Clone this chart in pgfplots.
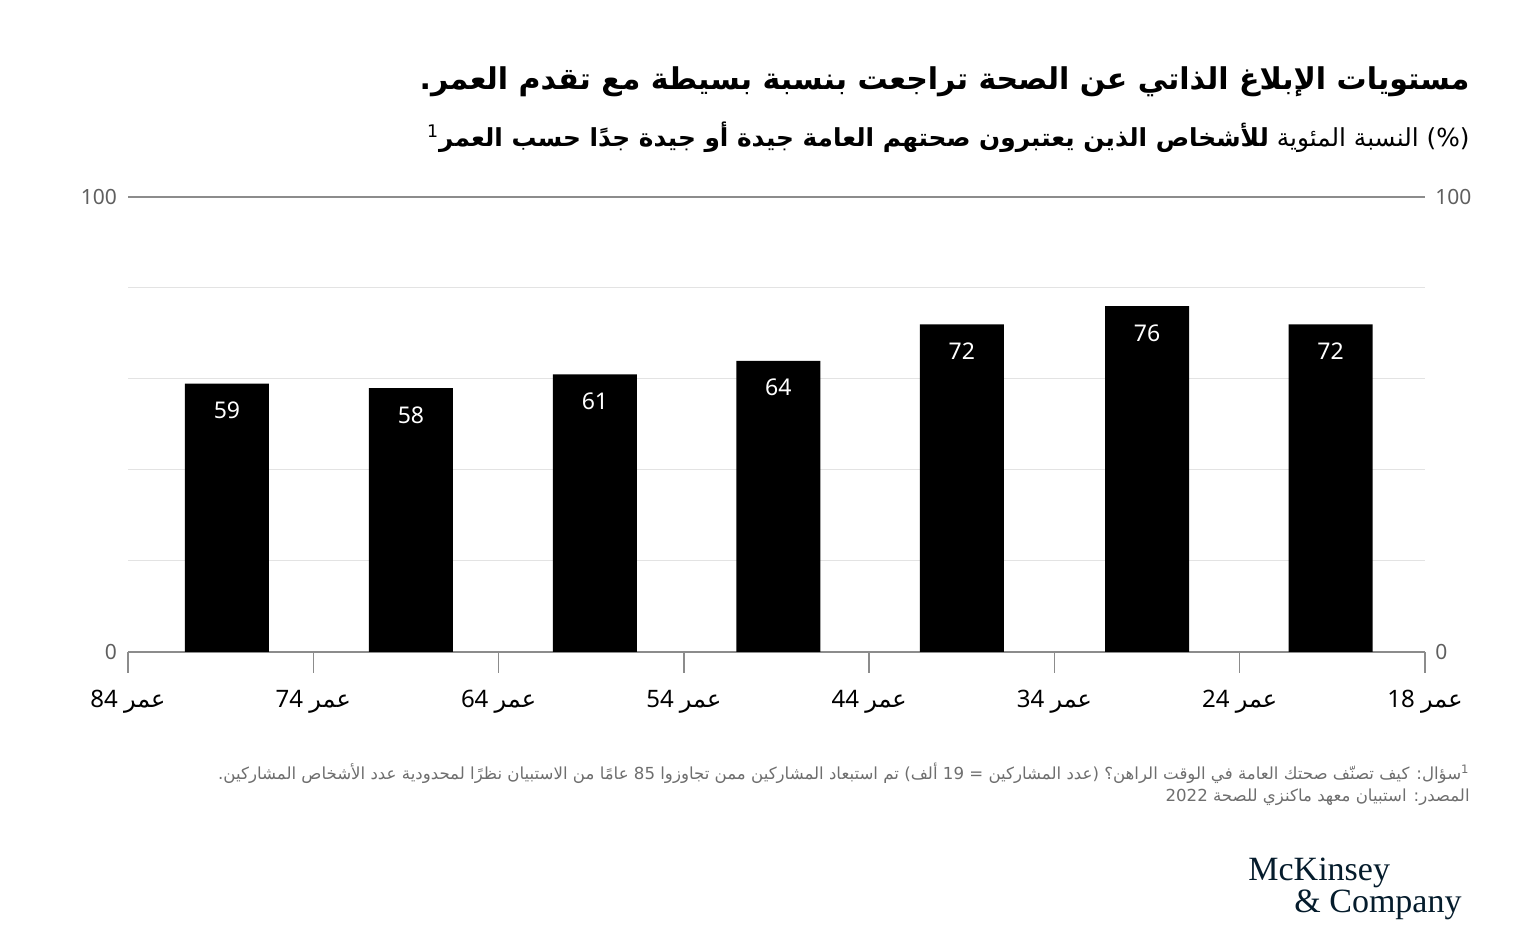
\documentclass[border=0pt]{standalone}
\usepackage{fontspec}
\usepackage{pgfplots}
\pgfplotsset{compat=1.18}
\setmainfont{Noto Sans}
\newfontfamily\arabicfont[Script=Arabic]{DejaVu Sans}
\newfontfamily\logofont{Liberation Serif}
\TeXXeTstate=1
\definecolor{tickgray}{HTML}{8C8C8C}
\definecolor{gridgray}{HTML}{E3E3E3}
\definecolor{labelgray}{HTML}{5F5F5F}
\definecolor{footgray}{HTML}{6E6E6E}
\definecolor{navy}{HTML}{051C2C}
\newcommand{\agelabel}[1]{#1~{\arabicfont عمر}}
\begin{document}
\begin{tikzpicture}[x=1pt,y=1pt]
\path[use as bounding box] (0,0) rectangle (768,473);
\begin{axis}[
  at={(64pt,147pt)}, anchor=south west,
  scale only axis, width=648.5pt, height=227.5pt,
  xmin=0, xmax=7, ymin=0, ymax=100,
  /pgf/number format/assume math mode=true,
  axis x line*=bottom, axis y line*=left,
  x axis line style={draw=tickgray, line width=0.7pt, -},
  y axis line style={draw=none},
  xtick={0,1,2,3,4,5,6,7},
  xticklabels={\agelabel{84},\agelabel{74},\agelabel{64},\agelabel{54},\agelabel{44},\agelabel{34},\agelabel{24},\agelabel{18}},
  tick align=outside,
  major tick length=10.5pt,
  xtick style={draw=tickgray, line width=0.7pt},
  xticklabel style={font=\fontsize{12}{14}\selectfont, text=black, yshift=-5pt},
  ytick={20,40,60,80},
  yticklabels={},
  ytick style={draw=none},
  ymajorgrids=true,
  major grid style={draw=gridgray, line width=0.5pt},
  extra y ticks={0,100},
  extra y tick labels={0,100},
  extra y tick style={ymajorgrids=true, major grid style={draw=tickgray, line width=0.6pt}, ytick style={draw=none}},
  yticklabel style={text=labelgray, font=\fontsize{10.5}{12}\selectfont, xshift=8.5pt},
  clip=false,
]
\addplot[ybar, bar width=42pt, fill=black, draw=none,
  nodes near coords,
  every node near coord/.append style={text=white, anchor=center, yshift=-13.5pt, font=\fontsize{11.5}{13}\selectfont}]
  coordinates {(0.534,59) (1.527,58) (2.52,61) (3.51,64) (4.50,72) (5.50,76) (6.49,72)};
\node[anchor=west, inner sep=0pt, text=labelgray, font=\fontsize{10.5}{12}\selectfont] at ([xshift=5pt]axis cs:7,100) {100};
\node[anchor=west, inner sep=0pt, text=labelgray, font=\fontsize{10.5}{12}\selectfont] at ([xshift=5pt]axis cs:7,0) {0};
\end{axis}
\node[anchor=east, inner sep=0pt, font=\arabicfont\bfseries\fontsize{15}{18}\selectfont] at (735,432)
  {\beginR مستويات الإبلاغ الذاتي عن الصحة تراجعت بنسبة بسيطة مع تقدم العمر.\endR};
\node[anchor=east, inner sep=0pt, font=\arabicfont\fontsize{12.4}{14}\selectfont] at (735,404.5)
  {\beginR (\%) النسبة المئوية \textbf{للأشخاص الذين يعتبرون صحتهم العامة جيدة أو جيدة جدًا حسب العمر}\textsuperscript{1}\endR};
\node[anchor=east, inner sep=0pt, text=footgray, font=\arabicfont\fontsize{8.3}{10}\selectfont] at (735,86.5)
  {\beginR\textsuperscript{1}سؤال: كيف تصنّف صحتك العامة في الوقت الراهن؟ (عدد المشاركين = 19 ألف) تم استبعاد المشاركين ممن تجاوزوا 85 عامًا من الاستبيان نظرًا لمحدودية عدد الأشخاص المشاركين.\endR};
\node[anchor=east, inner sep=0pt, text=footgray, font=\arabicfont\fontsize{8.3}{10}\selectfont] at (735,74.5)
  {\beginR المصدر: استبيان معهد ماكنزي للصحة 2022\endR};
\node[anchor=north west, inner sep=0pt, align=left, text=navy, font=\logofont\fontsize{17}{14}\selectfont] at (624,44)
  {McKinsey\\\hspace*{23pt}\&~Company};
\end{tikzpicture}
\end{document}
